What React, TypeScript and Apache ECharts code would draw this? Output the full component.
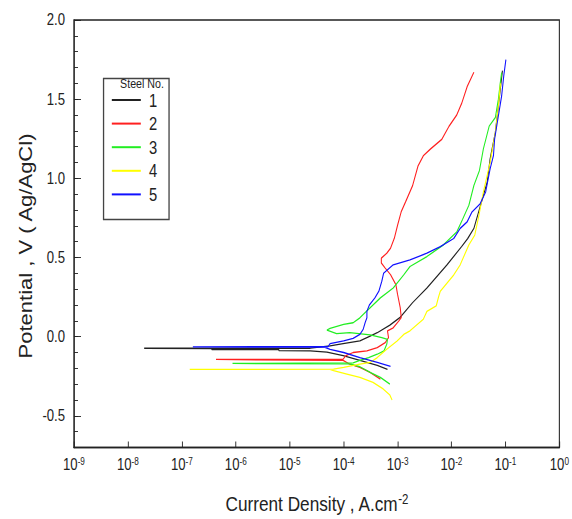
import { useEffect, useRef } from 'react';
import * as echarts from 'echarts';

const steelNames = ['1', '2', '3', '4', '5'];
const steelColors = ['#222222', '#ff2020', '#22ee22', '#ffff00', '#1010ff'];

// [current density (A/cm2), potential (V vs Ag/AgCl)]
const steel1 = [
  [6.5e-4, -0.206], [4.2e-4, -0.182], [2.0e-4, -0.15], [9.8e-5, -0.12], [4.9e-5, -0.097],
  [2.4e-5, -0.09], [6.3e-6, -0.088], [6.3e-6, -0.082], [3.6e-7, -0.082], [3.6e-7, -0.075],
  [2.0e-8, -0.073], [2.4e-5, -0.073], [5.6e-5, -0.058], [9.8e-5, -0.044], [2.0e-4, -0.027],
  [3.1e-4, 0.004], [4.2e-4, 0.025], [7.2e-4, 0.073], [1.1e-3, 0.12], [1.9e-3, 0.215],
  [3.5e-3, 0.307], [8.2e-3, 0.453], [1.55e-2, 0.57], [2.0e-2, 0.62], [2.6e-2, 0.684],
  [3.6e-2, 0.85], [4.6e-2, 0.977], [5.2e-2, 1.123], [6.5e-2, 1.29], [7.4e-2, 1.457], [8.8e-2, 1.68],
];
const steel2 = [
  [4.8e-4, -0.268], [3.1e-4, -0.226], [2.0e-4, -0.194], [1.3e-4, -0.174], [9.8e-5, -0.15],
  [4.3e-7, -0.144], [9.8e-5, -0.142], [1.1e-4, -0.12], [1.5e-4, -0.10], [2.7e-4, -0.09],
  [4.2e-4, -0.069], [5.9e-4, -0.038], [6.8e-4, -0.006], [6.5e-4, 0.036], [8.3e-4, 0.056],
  [1.05e-3, 0.098], [1.17e-3, 0.121], [1.12e-3, 0.183], [1.0e-3, 0.267], [9.3e-4, 0.329],
  [7.4e-4, 0.392], [5.9e-4, 0.433], [5.0e-4, 0.465], [5.0e-4, 0.496], [6.3e-4, 0.527],
  [7.4e-4, 0.558], [8.7e-4, 0.621], [1.0e-3, 0.704], [1.17e-3, 0.79], [1.4e-3, 0.85],
  [1.9e-3, 0.954], [2.4e-3, 1.079], [3.0e-3, 1.142], [4.1e-3, 1.186], [6.6e-3, 1.246],
  [9.0e-3, 1.329], [1.25e-2, 1.40], [1.55e-2, 1.475], [1.95e-2, 1.579], [2.6e-2, 1.67],
];
const steel3 = [
  [7.2e-4, -0.30], [4.8e-4, -0.257], [3.1e-4, -0.226], [2.0e-4, -0.19], [1.3e-4, -0.172],
  [8.7e-7, -0.169], [1.5e-4, -0.165], [2.0e-4, -0.149], [2.9e-4, -0.132], [4.2e-4, -0.111],
  [5.6e-4, -0.09], [6.3e-4, -0.048], [6.5e-4, -0.017], [5.1e-4, -0.006], [3.1e-4, 0.011],
  [1.3e-4, 0.025], [7.4e-5, 0.019], [4.9e-5, 0.042], [5.6e-5, 0.052], [1.0e-4, 0.077],
  [1.5e-4, 0.088], [2.0e-4, 0.119], [2.3e-4, 0.14], [4.8e-4, 0.245], [8.3e-4, 0.307],
  [1.3e-3, 0.39], [1.7e-3, 0.443], [3.5e-3, 0.506], [7.1e-3, 0.58], [1.26e-2, 0.663],
  [1.6e-2, 0.74], [2.1e-2, 0.83], [2.6e-2, 0.955], [3.3e-2, 1.05], [3.9e-2, 1.186],
  [5.0e-2, 1.33], [6.5e-2, 1.384], [7.4e-2, 1.50], [8.0e-2, 1.60], [8.5e-2, 1.667],
];
const steel4 = [
  [7.9e-4, -0.40], [7.2e-4, -0.369], [5.4e-4, -0.33], [3.5e-4, -0.289], [2.0e-4, -0.257],
  [1.15e-4, -0.236], [6.5e-5, -0.215], [5.6e-5, -0.207], [1.4e-7, -0.207], [6.5e-5, -0.205],
  [1.0e-4, -0.194], [2.0e-4, -0.174], [3.1e-4, -0.163], [4.2e-4, -0.132], [6.3e-4, -0.08],
  [9.8e-4, -0.027], [1.3e-3, 0.014], [1.7e-3, 0.037], [3.0e-3, 0.11], [3.5e-3, 0.16],
  [5.2e-3, 0.194], [5.8e-3, 0.255], [6.2e-3, 0.287], [1.1e-2, 0.39], [1.45e-2, 0.454],
  [2.1e-2, 0.58], [2.7e-2, 0.642], [3.2e-2, 0.76], [3.9e-2, 0.914], [5.2e-2, 1.10],
  [6.5e-2, 1.29], [7.4e-2, 1.457], [8.1e-2, 1.60],
];
const steel5 = [
  [7.4e-4, -0.187], [4.2e-4, -0.163], [2.0e-4, -0.132], [1.0e-4, -0.10], [5.6e-5, -0.08],
  [4.5e-5, -0.068], [1.6e-7, -0.065], [5.2e-5, -0.062], [5.6e-5, -0.044], [1.0e-4, -0.027],
  [1.5e-4, -0.011], [2.0e-4, 0.014], [2.3e-4, 0.046], [2.5e-4, 0.088], [2.7e-4, 0.119],
  [2.7e-4, 0.16], [3.0e-4, 0.20], [3.8e-4, 0.245], [4.5e-4, 0.287], [5.1e-4, 0.35],
  [5.5e-4, 0.40], [8.3e-4, 0.454], [1.7e-3, 0.485], [3.5e-3, 0.527], [6.2e-3, 0.569],
  [1.1e-2, 0.62], [1.45e-2, 0.684], [1.95e-2, 0.725], [2.4e-2, 0.788], [3.4e-2, 0.84],
  [4.3e-2, 0.914], [5.2e-2, 1.06], [6.0e-2, 1.144], [6.3e-2, 1.248], [7.4e-2, 1.395],
  [8.5e-2, 1.52], [9.3e-2, 1.645], [1.02e-1, 1.75],
];
const steelData = [steel1, steel2, steel3, steel4, steel5];

const yMajorTicks = [-0.5, 0.0, 0.5, 1.0, 1.5, 2.0];
const yMinorTicks = [
  -0.7, -0.6, -0.5, -0.4, -0.3, -0.2, -0.1, 0.0, 0.1, 0.2, 0.3, 0.4, 0.5, 0.6, 0.7, 0.8, 0.9,
  1.0, 1.1, 1.2, 1.3, 1.4, 1.5, 1.6, 1.7, 1.8, 1.9, 2.0,
];

// The reference picture is horizontally condensed; the chart is laid out on a wider
// canvas and squeezed with a CSS scaleX so that the text looks narrow like the original.
const SQUEEZE = 0.82;
const W = 572 / SQUEEZE;
const H = 519;
const px = (v: number) => v / SQUEEZE;

const SANS = "'Liberation Sans', Arial, sans-serif";
const INK = '#222';

export default function App() {
  const ref = useRef<HTMLDivElement>(null);
  useEffect(() => {
    if (!ref.current) return;
    const chart = echarts.init(ref.current, undefined, { renderer: 'svg' });
    chart.setOption({
      animation: false,
      backgroundColor: '#fff',
      textStyle: { fontFamily: SANS },
      grid: {
        left: px(74), right: px(13), top: 20, bottom: 68,
        show: true, borderColor: INK, borderWidth: 1.3, backgroundColor: 'transparent',
      },
      xAxis: {
        type: 'log', logBase: 10, min: 1e-9, max: 1, interval: 1,
        axisLine: { show: true, onZero: false, lineStyle: { color: INK, width: 1.3 } },
        axisTick: { show: true, inside: true, length: 6, lineStyle: { color: INK } },
        minorTick: { show: false },
        splitLine: { show: false },
        axisLabel: {
          margin: 9,
          formatter: (v: number) => `{b|10}{s|${Math.round(Math.log10(v))}}`,
          rich: {
            b: { fontFamily: SANS, fontSize: 16, color: INK, lineHeight: 16 },
            s: { fontFamily: SANS, fontSize: 10, color: INK, lineHeight: 10, verticalAlign: 'top' },
          },
        },
        name: '{b|Current Density , A.cm}{s|-2}',
        nameLocation: 'middle',
        nameGap: 45,
        nameTextStyle: {
          rich: {
            b: { fontFamily: SANS, fontSize: 21, color: INK, lineHeight: 22 },
            s: { fontFamily: SANS, fontSize: 14, color: INK, lineHeight: 12, verticalAlign: 'top' },
          },
        },
      },
      yAxis: [
        {
          type: 'value', min: -0.7, max: 2.0,
          axisLine: { show: true, onZero: false, lineStyle: { color: INK, width: 1.3 } },
          axisTick: { show: true, inside: true, length: px(7), customValues: yMajorTicks, lineStyle: { color: INK } },
          axisLabel: {
            customValues: yMajorTicks, margin: px(9),
            formatter: (v: number) => v.toFixed(1),
            fontFamily: SANS, fontSize: 16, color: INK,
          },
          splitLine: { show: false },
        },
        {
          type: 'value', min: -0.7, max: 2.0, position: 'left',
          axisLine: { show: false },
          axisTick: { show: true, inside: true, length: px(4), customValues: yMinorTicks, lineStyle: { color: INK } },
          axisLabel: { show: false },
          splitLine: { show: false },
        },
      ],
      legend: {
        orient: 'vertical', left: px(111), top: 91, padding: 0,
        itemWidth: px(29), itemHeight: 14, itemGap: 5.6,
        data: steelNames,
        itemStyle: { opacity: 0 },
        textStyle: { fontFamily: SANS, fontSize: 18, color: INK, padding: [0, 0, 0, 5] },
      },
      graphic: [
        {
          type: 'rect', left: px(101.5), top: 76, z: 100,
          shape: { width: px(65.5), height: 141 },
          style: { fill: 'none', stroke: '#444', lineWidth: 1.6 },
        },
        {
          type: 'text', x: px(142), y: 84, z: 100,
          style: {
            text: 'Steel No.', font: `13px ${SANS}`, fill: INK,
            textAlign: 'center', textVerticalAlign: 'middle',
          },
        },
        {
          type: 'text', x: px(26), y: 246, rotation: Math.PI / 2, z: 100,
          style: {
            text: 'Potential , V ( Ag/AgCl)', font: `22px ${SANS}`, fill: INK,
            textAlign: 'center', textVerticalAlign: 'middle',
          },
        },
      ],
      series: steelData.map((d, i) => ({
        name: steelNames[i],
        type: 'line',
        data: d,
        symbol: 'none',
        smooth: false,
        color: steelColors[i],
        lineStyle: { color: steelColors[i], width: 1.3 },
      })),
    });
    return () => chart.dispose();
  }, []);
  return (
    <div
      ref={ref}
      style={{
        position: 'absolute', left: 0, top: 0, width: W, height: H,
        transform: `scaleX(${SQUEEZE})`, transformOrigin: 'left top',
      }}
    />
  );
}
